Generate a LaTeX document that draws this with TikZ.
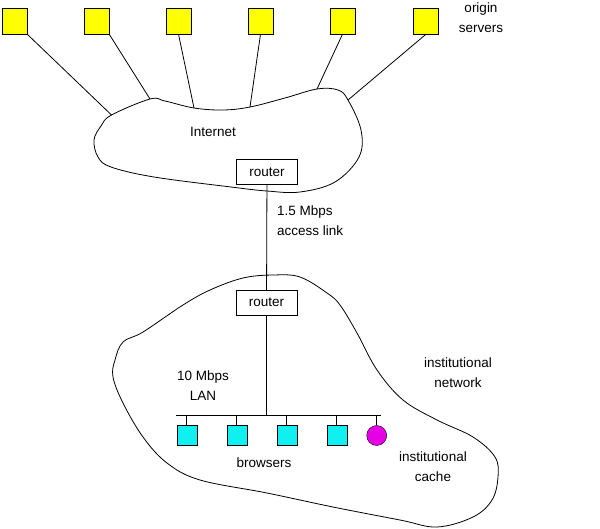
\documentclass[tikz,border=0pt]{standalone}
\usepackage{fontspec}
\setmainfont{Liberation Sans}
\usetikzlibrary{positioning}
\definecolor{srvyellow}{RGB}{255,255,0}
\definecolor{hostcyan}{RGB}{16,240,240}
\definecolor{cachemag}{RGB}{230,0,230}

\begin{document}
\begin{tikzpicture}[
  x=1pt, y=-1pt,
  font=\fontsize{13.5}{20}\selectfont,
  server/.style={draw, fill=srvyellow, minimum width=25pt, minimum height=26pt, inner sep=0pt},
  host/.style={draw, fill=hostcyan, minimum size=20pt, inner sep=0pt},
  cache/.style={draw, fill=cachemag, circle, minimum size=20pt, inner sep=0pt},
  router/.style={draw, minimum width=61pt, minimum height=25pt, inner sep=0pt},
  lbl/.style={align=center, inner sep=0pt},
  wire/.style={line width=0.8pt}
]
\useasboundingbox (0,0) rectangle (600,528);

% the two clouds
\draw[wire] plot[smooth cycle, tension=0.6] coordinates {
  (111.5,115) (150,99) (165,101) (194,108) (223,110) (250,107) (285,98)
  (317,89) (338,90) (348,100) (361,130) (359,157) (335,182) (300,192)
  (267,191) (231,187) (154,177) (111,167) (98,157) (94,140) (101,126)};
\draw[wire] plot[smooth cycle, tension=0.6] coordinates {
  (115,360) (123,342) (143,332) (183,305) (210,290) (243,278) (273,275)
  (300,277) (327,293) (340,305) (357,333) (377,370) (403,400) (437,420)
  (473,437) (495,457) (498,477) (492,500) (473,517) (437,527) (400,520)
  (333,507) (267,493) (200,480) (167,463) (143,437) (123,403) (113,377)};

% origin servers
\foreach \i/\x in {1/14.5,2/96.5,3/178.5,4/260.5,5/342.5,6/426}
  \node[server] (s\i) at (\x,21) {};
\coordinate (c1) at (111.5,115);
\coordinate (c2) at (150,99);
\coordinate (c3) at (194,108);
\coordinate (c4) at (250,107);
\coordinate (c5) at (317,89);
\coordinate (c6) at (348,100);
\foreach \i/\a in {1/south east,2/south east,3/south,4/south,5/south,6/south}
  \draw[wire] (s\i.\a) -- (c\i);

\node[lbl] (origin) at (481,17.5) {origin\\servers};
\node[lbl] (inet) at (213,132) {Internet};

% routers and access link
\node[router] (r1) at (267,172) {router};
\node[router] (r2) at (266.5,302.5) {router};
\draw[wire] (r1) -- (r2);
\node[lbl, align=left, anchor=west] (access) at (277,221) {1.5 Mbps\\access link};

% LAN
\coordinate (busL) at (176,415);
\coordinate (busR) at (381,415);
\draw[wire] (r2) -- (r2 |- busL);
\draw[wire] (busL) -- (busR);
\foreach \i/\x in {1/186.7,2/236.7,3/286.7,4/336.7}{
  \node[host] (h\i) at (\x,435) {};
  \draw[wire] (h\i.north) -- (h\i.north |- busL);
}
\node[cache] (cache) at (376.7,435.5) {};
\draw[wire] (cache.north) -- (cache.north |- busL);

\node[lbl] (lan) at (203,386) {10 Mbps\\LAN};
\node[lbl] (brws) at (264,463) {browsers};
\node[lbl] (inst) at (458,373) {institutional\\network};
\node[lbl] (icache) at (433,467) {institutional\\cache};
\end{tikzpicture}
\end{document}
